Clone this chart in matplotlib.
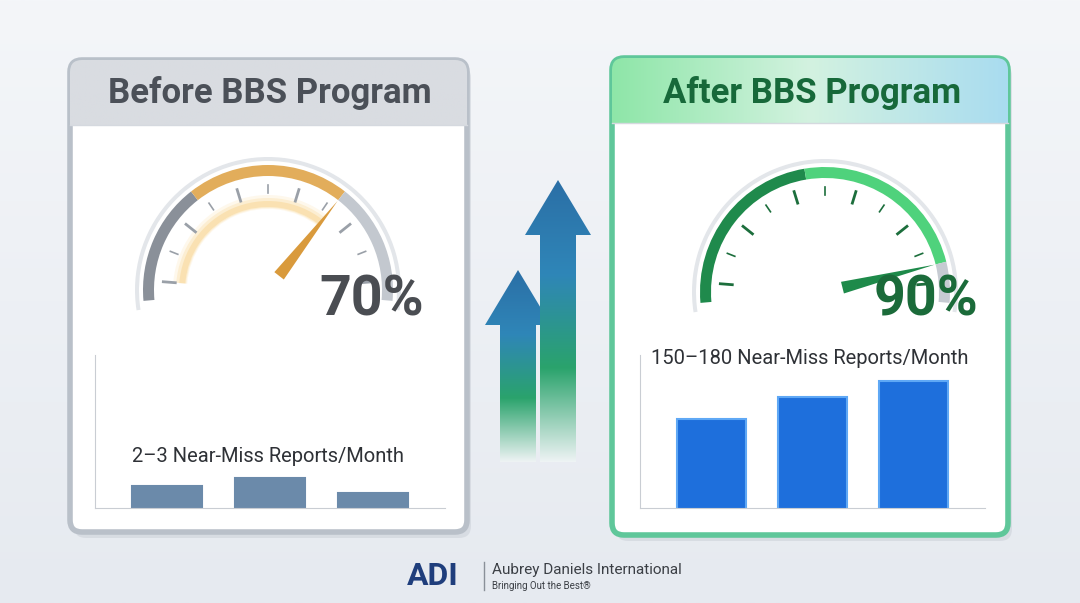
import numpy as np
import matplotlib.pyplot as plt
from matplotlib.patches import FancyBboxPatch, Wedge, Polygon
from matplotlib.colors import LinearSegmentedColormap

plt.rcParams['font.family'] = ['Roboto', 'DejaVu Sans']

# data
gauge_before = 0.70
gauge_after = 0.90
bars_before = [2.2, 3.0, 1.5]
bars_after = [150, 168, 180]
titles = ["Before BBS Program", "After BBS Program"]
bar_labels = ["2–3 Near-Miss Reports/Month", "150–180 Near-Miss Reports/Month"]

fig = plt.figure(figsize=(10.8, 6.03), dpi=100)
ax = fig.add_axes([0, 0, 1, 1])
ax.set_xlim(0, 1080)
ax.set_ylim(603, 0)
ax.axis('off')

# background
bg = np.linspace(0, 1, 256).reshape(-1, 1)
ax.imshow(bg, extent=[0, 1080, 603, 0], cmap=LinearSegmentedColormap.from_list('bg', ['#f4f6f9', '#e6eaf0']),
          aspect='auto', zorder=0)

def panel(x0, y0, w, h, edge, head_cmap, head_h=65):
    ax.add_patch(FancyBboxPatch((x0 + 4, y0 + 6), w, h, boxstyle="round,pad=0,rounding_size=12",
                                fc='#c9ced6', ec='none', alpha=0.5, zorder=1))
    ax.add_patch(FancyBboxPatch((x0, y0), w, h, boxstyle="round,pad=0,rounding_size=12",
                                fc='white', ec=edge, lw=4, zorder=2))
    clip = FancyBboxPatch((x0, y0), w, h, boxstyle="round,pad=0,rounding_size=12",
                          fc='none', ec='none', transform=ax.transData)
    ax.add_patch(clip)
    grad = np.linspace(0, 1, 256).reshape(1, -1)
    im = ax.imshow(grad, extent=[x0, x0 + w, y0 + head_h, y0], cmap=head_cmap, aspect='auto', zorder=3)
    im.set_clip_path(clip)
    ax.plot([x0, x0 + w], [y0 + head_h, y0 + head_h], color='#d5d9df', lw=1, zorder=3)

panel(70, 60, 397, 472, '#b9c0c9', LinearSegmentedColormap.from_list('g', ['#d9dce1', '#d9dce1']))
panel(612, 58, 396, 477, '#5fc79a', LinearSegmentedColormap.from_list('gb', ['#8ee6a8', '#d3f2e0', '#a9dcf0']))

ax.text(270, 93, titles[0], ha='center', va='center', fontsize=25, fontweight='bold', color='#4b5058', zorder=5)
ax.text(812, 93, titles[1], ha='center', va='center', fontsize=25, fontweight='bold', color='#17693a', zorder=5)

def ang(v):
    return 185 - v * 190

def wedge(cx, cy, r, v0, v1, width, **kw):
    # y axis is inverted, so flip the angles
    ax.add_patch(Wedge((cx, cy), r, -ang(v0), -ang(v1), width=width, ec='none', **kw))

def gauge(cx, cy, r, value, segs, needle_col, tick_col, glow=None):
    ax.add_patch(Wedge((cx, cy), r + 8, -ang(-0.02), -ang(1.02), width=4, fc='#e3e6ea', ec='none', zorder=4))
    for v0, v1, col in segs:
        wedge(cx, cy, r, v0, v1, 11, fc=col, zorder=4)
    if glow:
        for k, a in enumerate([0.12, 0.2, 0.3]):
            wedge(cx, cy, r - 30 - k * 3, 0.05, value, 14 - k * 4, fc=glow, alpha=a, zorder=4)
    for i in range(11):
        a = np.radians(ang(0.05 + i * 0.09))
        r0, r1 = (r - 32, r - 20) if i % 2 == 0 else (r - 28, r - 20)
        ax.plot([cx + r0 * np.cos(a), cx + r1 * np.cos(a)], [cy - r0 * np.sin(a), cy - r1 * np.sin(a)],
                color=tick_col, lw=2 if i % 2 == 0 else 1.2, zorder=5)
    a = np.radians(ang(value))
    L = r - 12
    tip = (cx + L * np.cos(a), cy - L * np.sin(a))
    p = np.array([np.sin(a), np.cos(a)])
    base = np.array([cx, cy]) + 18 * np.array([np.cos(a), -np.sin(a)])
    ax.add_patch(Polygon([tip, base + 6 * p, base - 6 * p], closed=True, fc=needle_col, ec='none', zorder=6))

gauge(268, 290, 125, gauge_before,
      [(0, 0.3, '#8a9099'), (0.3, gauge_before, '#e2ad5b'), (gauge_before, 1.0, '#c3c8cf')],
      '#d99a3c', '#9aa0a8', glow='#f7c66a')
gauge(825, 292, 125, gauge_after,
      [(0, 0.45, '#1f8a4c'), (0.45, gauge_after, '#4fd27c'), (gauge_after, 1.0, '#c6cbd2')],
      '#1e8a4a', '#1c6e3c')

ax.text(372, 300, f"{round(gauge_before * 100)}%", ha='center', va='center', fontsize=40,
        fontweight='bold', color='#4a4d52', zorder=6)
ax.text(926, 300, f"{round(gauge_after * 100)}%", ha='center', va='center', fontsize=40,
        fontweight='bold', color='#1b6b3a', zorder=6)

# arrows
arrow_cmap = LinearSegmentedColormap.from_list('ar', ['#2b6fa6', '#2f86b8', '#2aa36c', '#eef3f4'])
for x0, w, top, hb in [(500, 36, 270, 55), (540, 36, 180, 55)]:
    cx = x0 + w / 2
    pts = [(x0, 462), (x0, top + hb), (cx - 33, top + hb), (cx, top), (cx + 33, top + hb),
           (x0 + w, top + hb), (x0 + w, 462)]
    poly = Polygon(pts, closed=True, fc='none', ec='none')
    ax.add_patch(poly)
    g = np.linspace(0, 1, 256).reshape(-1, 1)
    im = ax.imshow(g, extent=[cx - 34, cx + 34, 462, top], cmap=arrow_cmap, aspect='auto', zorder=3)
    im.set_clip_path(poly)

# bar charts
def bars(rect, vals, ylim, col, edge):
    b = fig.add_axes(rect)
    b.patch.set_alpha(0)
    b.bar(range(3), vals, width=0.68, color=col, edgecolor=edge, lw=1.5)
    b.set_xlim(-0.7, 2.7)
    b.set_ylim(*ylim)
    for s in ['top', 'right']:
        b.spines[s].set_visible(False)
    for s in ['left', 'bottom']:
        b.spines[s].set_color('#c9cdd3')
    b.set_xticks([])
    b.set_yticks([])
    return b

bars([95 / 1080, 1 - 508 / 603, 350 / 1080, 153 / 603], bars_before, (0, 15.3), '#6b8aaa', '#6b8aaa')
bars([640 / 1080, 1 - 508 / 603, 345 / 1080, 153 / 603], bars_after, (80, 200.8), '#1e6fdc', '#5fa8f5')

ax.text(268, 457, bar_labels[0], ha='center', va='center', fontsize=14.5, color='#2e3136', zorder=6)
ax.text(810, 358, bar_labels[1], ha='center', va='center', fontsize=14.5, color='#2e3136', zorder=6)

# logo
ax.text(433, 576, "ADI", ha='center', va='center', fontsize=23, fontweight='bold', color='#1f3e7c')
ax.plot([484, 484], [562, 590], color='#8a9099', lw=1)
ax.text(492, 570, "Aubrey Daniels International", ha='left', va='center', fontsize=11, color='#3b3f45')
ax.text(492, 586, "Bringing Out the Best®", ha='left', va='center', fontsize=7, color='#3b3f45')

fig.savefig('out.png', dpi=100)
